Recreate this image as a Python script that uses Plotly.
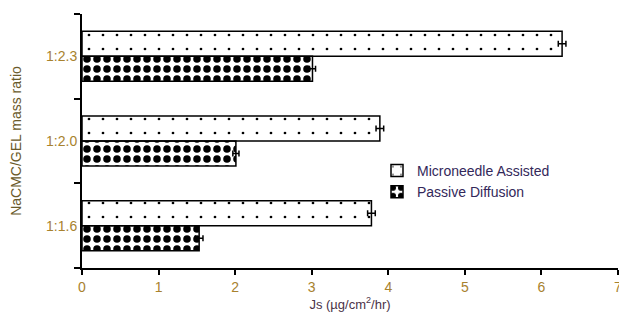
import plotly.graph_objects as go

categories = ["1:1.6", "1:2.0", "1:2.3"]
micro_vals = [3.78, 3.89, 6.27]
micro_err = [0.05, 0.05, 0.05]
passive_vals = [1.53, 2.01, 3.01]
passive_err = [0.05, 0.04, 0.04]
x_ticks = [0, 1, 2, 3, 4, 5, 6, 7]

tick_color = "#a8822e"
font_family = "Liberation Sans, Arial, sans-serif"

fig = go.Figure()
fig.add_trace(go.Bar(
    y=categories, x=passive_vals, orientation="h", name="Passive Diffusion",
    marker=dict(color="white", line=dict(color="black", width=1.5),
                pattern=dict(shape=".", fgcolor="black", size=10, solidity=0.45, fillmode="replace")),
    error_x=dict(type="data", array=passive_err, color="black", thickness=1.5, width=3),
))
fig.add_trace(go.Bar(
    y=categories, x=micro_vals, orientation="h", name="Microneedle Assisted",
    marker=dict(color="white", line=dict(color="black", width=1.5),
                pattern=dict(shape=".", fgcolor="black", size=14, solidity=0.03, fillmode="replace")),
    error_x=dict(type="data", array=micro_err, color="black", thickness=1.5, width=3),
))

W, H = 619, 311
L, R, T, B = 74, 9, 6, 51
pw = W - L - R
ph = H - T - B

fig.update_layout(
    width=W, height=H,
    margin=dict(l=L, r=R, t=T, b=B),
    plot_bgcolor="white", paper_bgcolor="white",
    barmode="group", bargap=0.41, bargroupgap=0,
    font=dict(family=font_family, size=13, color="black"),
    showlegend=True,
    legend=dict(x=(369 - L) / pw, y=(T + ph - 147) / ph, xanchor="left", yanchor="top",
                traceorder="reversed", bgcolor="rgba(0,0,0,0)",
                font=dict(size=14, color="#33285a"), itemwidth=30, tracegroupgap=0),
)
fig.update_xaxes(
    range=[0, 7], tickvals=x_ticks, ticktext=[str(v) for v in x_ticks],
    showline=True, linecolor="black", linewidth=2, mirror=False,
    ticks="outside", ticklen=5, tickwidth=2, tickcolor="black",
    showgrid=False, zeroline=False, automargin=False, ticklabeloverflow="allow",
    tickfont=dict(size=14, color=tick_color),
    title=dict(text="Js (µg/cm<sup>2</sup>/hr)", font=dict(size=13, color="#4a3348"), standoff=6),
)
fig.update_yaxes(
    type="category", categoryorder="array", categoryarray=categories,
    range=[-0.5, 2.5],
    showline=True, linecolor="black", linewidth=2,
    ticks="outside", ticklen=6, tickwidth=2, tickcolor="black", tickson="boundaries",
    showgrid=False, zeroline=False, automargin=False,
    tickfont=dict(size=14, color=tick_color),
    title=dict(text="NaCMC/GEL mass ratio", font=dict(size=14, color="#6a5a2a"), standoff=26),
)

fig.write_html("out.html")
